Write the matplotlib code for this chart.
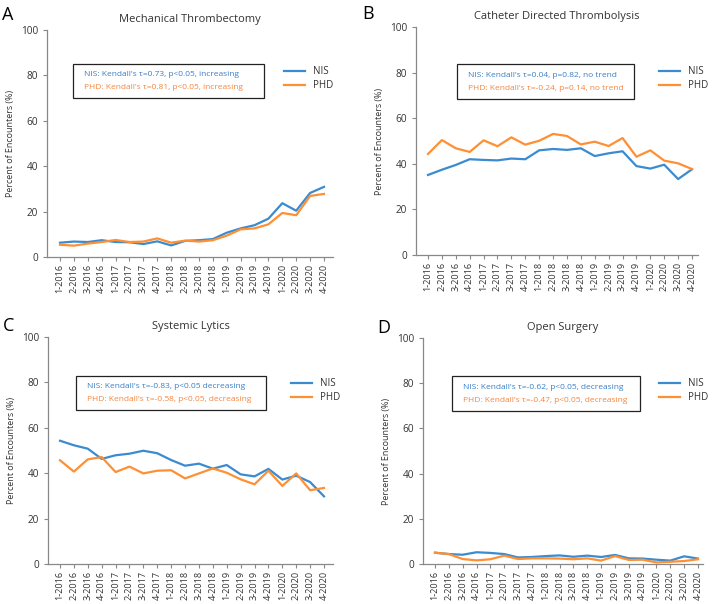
import matplotlib
matplotlib.use("Agg")
import matplotlib.pyplot as plt

plt.rcParams['font.family'] = ['Open Sans', 'DejaVu Sans']

quarters = ['1-2016', '2-2016', '3-2016', '4-2016', '1-2017', '2-2017', '3-2017', '4-2017',
            '1-2018', '2-2018', '3-2018', '4-2018', '1-2019', '2-2019', '3-2019', '4-2019',
            '1-2020', '2-2020', '3-2020', '4-2020']

# Mechanical Thrombectomy
mt_nis = [6.3, 6.8, 6.6, 7.4, 6.6, 6.5, 5.7, 6.9, 5.1, 7.1, 7.4, 7.9, 10.7, 12.6, 14.0, 16.9, 23.7, 20.4, 28.2, 30.9]
mt_phd = [5.4, 5.0, 5.9, 6.6, 7.5, 6.6, 6.8, 8.2, 6.3, 7.2, 6.8, 7.4, 9.4, 12.2, 12.6, 14.4, 19.4, 18.4, 26.9, 27.8]
# Catheter Directed Thrombolysis
cdt_nis = [35.1, 37.4, 39.5, 42.0, 41.7, 41.5, 42.3, 42.0, 45.9, 46.5, 46.1, 46.8, 43.4, 44.6, 45.5, 39.0, 37.9, 39.6, 33.3, 37.6]
cdt_phd = [44.3, 50.4, 46.8, 45.2, 50.3, 47.7, 51.6, 48.4, 50.1, 53.1, 52.2, 48.5, 49.7, 47.8, 51.3, 43.1, 45.9, 41.4, 40.2, 37.7]
# Systemic Lytics
sl_nis = [54.3, 52.3, 50.8, 46.3, 47.9, 48.6, 49.9, 48.8, 45.8, 43.3, 44.2, 42.0, 43.6, 39.5, 38.6, 41.9, 37.2, 38.9, 36.1, 29.8]
sl_phd = [45.7, 40.7, 46.1, 47.1, 40.5, 42.9, 39.9, 41.1, 41.3, 37.7, 39.9, 42.1, 40.2, 37.3, 35.1, 41.1, 34.4, 39.9, 32.5, 33.5]
# Open Surgery
os_nis = [5.0, 4.4, 4.1, 5.2, 4.9, 4.4, 2.9, 3.1, 3.5, 3.8, 3.2, 3.7, 3.1, 4.0, 2.5, 2.4, 1.9, 1.5, 3.4, 2.4]
os_phd = [5.0, 4.4, 2.2, 1.6, 2.1, 3.7, 2.2, 2.5, 2.5, 2.4, 2.1, 2.5, 1.5, 3.5, 1.8, 1.9, 0.7, 1.0, 1.3, 2.1]

titles = ['Mechanical Thrombectomy', 'Catheter Directed Thrombolysis', 'Systemic Lytics', 'Open Surgery']
letters = ['A', 'B', 'C', 'D']
nis_text = ["NIS: Kendall's \u03c4=0.73, p<0.05, increasing",
            "NIS: Kendall's \u03c4=0.04, p=0.82, no trend",
            "NIS: Kendall's \u03c4=-0.83, p<0.05 decreasing",
            "NIS: Kendall's \u03c4=-0.62, p<0.05, decreasing"]
phd_text = ["PHD: Kendall's \u03c4=0.81, p<0.05, increasing",
            "PHD: Kendall's \u03c4=-0.24, p=0.14, no trend",
            "PHD: Kendall's \u03c4=-0.58, p<0.05, decreasing",
            "PHD: Kendall's \u03c4=-0.47, p<0.05, decreasing"]
nis_series = [mt_nis, cdt_nis, sl_nis, os_nis]
phd_series = [mt_phd, cdt_phd, sl_phd, os_phd]

W, H = 715, 604
# pixel boxes: left, right, top, bottom of each plot area
boxes = [(47, 333, 30, 257), (416, 698, 27, 255), (48, 333, 337, 564), (423, 703, 338, 564)]
first_tick = [60, 428, 60, 435]
last_tick = [324, 692, 324, 698]
# text box in axes fraction (left, right, top, bottom)
tboxes = [(0.091, 0.759, 0.850, 0.700), (0.145, 0.773, 0.838, 0.684),
          (0.098, 0.765, 0.828, 0.678), (0.104, 0.775, 0.832, 0.677)]
# legend upper-left in pixels
legpos = [(284, 66), (659, 66), (291, 378), (659, 378)]
letterpos = [(2, 15), (362, 14), (3, 326), (377, 328)]

blue = '#3b8bd0'
orange = '#ff8f33'
blue_t = '#3a7ec6'
orange_t = '#f5853f'

fig = plt.figure(figsize=(W / 100, H / 100), dpi=100)
for i in range(4):
    l, r, t, b = boxes[i]
    ax = fig.add_axes([l / W, 1 - b / H, (r - l) / W, (b - t) / H])
    x = list(range(len(quarters)))
    ax.plot(x, nis_series[i], color=blue, lw=1.6, label='NIS')
    ax.plot(x, phd_series[i], color=orange, lw=1.6, label='PHD')
    step = (last_tick[i] - first_tick[i]) / 19
    ax.set_xlim(-(first_tick[i] - l) / step, 19 + (r - last_tick[i]) / step)
    ax.set_ylim(0, 100)
    ax.set_yticks([0, 20, 40, 60, 80, 100])
    ax.set_xticks(x)
    ax.set_xticklabels(quarters, rotation=90, fontsize=6.6, color='#333333')
    ax.tick_params(axis='y', labelsize=7.2, colors='#333333', length=3, width=0.8)
    ax.tick_params(axis='x', length=3, width=0.8, pad=2)
    ax.tick_params(axis='both', color='#888888')
    for s in ['top', 'right']:
        ax.spines[s].set_visible(False)
    for s in ['left', 'bottom']:
        ax.spines[s].set_color('#888888')
        ax.spines[s].set_linewidth(0.9)
    ax.set_title(titles[i], fontsize=8, color='#333333', pad=6)
    ax.set_ylabel('Percent of Encounters (%)', fontsize=6.4, color='#333333', labelpad=4)

    bl, br, bt, bb = tboxes[i]
    ax.add_patch(plt.Rectangle((bl, bb), br - bl, bt - bb, transform=ax.transAxes,
                               fill=False, ec='#222222', lw=0.9, clip_on=False))
    ax.text(bl + 0.04, bt - (bt - bb) * 0.32, nis_text[i], transform=ax.transAxes,
            fontsize=6.0, color=blue_t, va='center', ha='left')
    ax.text(bl + 0.04, bt - (bt - bb) * 0.70, phd_text[i], transform=ax.transAxes,
            fontsize=6.0, color=orange_t, va='center', ha='left')

    lx, ly = legpos[i]
    ax.legend(loc='upper left', bbox_to_anchor=(lx / W, 1 - ly / H), bbox_transform=fig.transFigure,
              frameon=False, fontsize=7, handlelength=2.2, handletextpad=0.8,
              labelspacing=0.35, borderaxespad=0, borderpad=0, labelcolor='#333333')

    fx, fy = letterpos[i]
    fig.text(fx / W, 1 - fy / H, letters[i], fontsize=13, va='center', ha='left', color='black')

fig.savefig('out.png', dpi=100, facecolor='white')
